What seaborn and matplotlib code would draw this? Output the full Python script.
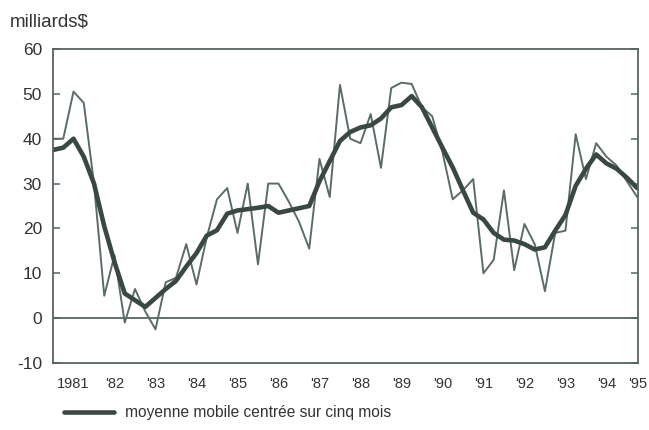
import numpy as np
import pandas as pd
import seaborn as sns
import matplotlib.pyplot as plt
from matplotlib.ticker import MultipleLocator

# quarterly readings, 1981 Q1 .. 1995 Q2 (milliards $)
quarters = [1981 + 0.25 * i for i in range(58)]
raw_vals = [40, 40, 50.5, 48, 30, 5, 14, -1, 6.5, 1.5, -2.5, 8,
            9, 16.5, 7.5, 18, 26.5, 29, 19, 30, 12, 30, 30, 26,
            21.5, 15.5, 35.5, 27, 52, 40, 39, 45.5, 33.5, 51.3, 52.5, 52.2,
            47, 45, 37, 26.5, 28.5, 31, 10, 13, 28.5, 10.7, 21, 16.5,
            6, 19, 19.5, 41, 31, 39, 36, 34, 30.5, 27]
avg_vals = [37.5, 38, 40, 36, 30, 20.5, 12.5, 5.5, 4, 2.5, 4.5, 6.5,
            8.3, 11.5, 14.5, 18.4, 19.6, 23.3, 24, 24.3, 24.6, 25, 23.5, 24,
            24.5, 25, 30.5, 35, 39.5, 41.5, 42.5, 43, 44.5, 47, 47.5, 49.5,
            47, 42.5, 38, 33.6, 28.5, 23.5, 22, 19, 17.5, 17.3, 16.5, 15.3,
            15.8, 19.5, 23, 29.5, 33.3, 36.5, 34.5, 33.3, 31.3, 29]
year_labels = ["1981", "'82", "'83", "'84", "'85", "'86", "'87", "'88",
               "'89", "'90", "'91", "'92", "'93", "'94", "'95"]
y_ticks = [-10, 0, 10, 20, 30, 40, 50, 60]

df = pd.DataFrame({"t": quarters, "raw": raw_vals, "avg": avg_vals})

sns.set_style("white")
plt.rcParams['font.family'] = ['Liberation Sans', 'DejaVu Sans']
plt.rcParams['axes.unicode_minus'] = False

frame = "#56645f"
fig = plt.figure(figsize=(6.49, 4.30), dpi=100)
ax = fig.add_axes([53/649, 1 - 363/430, 585/649, 314/430])

sns.lineplot(data=df, x="t", y="raw", ax=ax, color="#5d6b66", lw=1.4)
sns.lineplot(data=df, x="t", y="avg", ax=ax, color="#3a4843", lw=3.3,
             label="moyenne mobile centrée sur cinq mois")
ax.axhline(0, color=frame, lw=1.3, zorder=1)

ax.set_xlim(1981, 1995.27)
ax.set_ylim(-10, 60)
ax.set_yticks(y_ticks)
ax.set_yticklabels([str(v) for v in y_ticks], fontsize=12.5, color="#333")
ax.set_xlabel("")
ax.set_ylabel("")

ax.xaxis.set_major_locator(MultipleLocator(1))
ax.xaxis.set_minor_locator(MultipleLocator(0.25))
ax.tick_params(axis="x", which="major", direction="in", length=7, width=1.1,
               color=frame, labelbottom=False)
ax.tick_params(axis="x", which="minor", direction="in", length=4, width=1.1,
               color=frame)
ax.tick_params(axis="y", direction="in", length=5, width=1.1, color=frame,
               right=True, left=True, pad=8)

for s in ax.spines.values():
    s.set_color(frame)
    s.set_linewidth(1.3)

# year labels sit in the middle of each year, '95 squeezed at the end
for i, lab in enumerate(year_labels):
    xpos = 1981.5 + i if i < len(year_labels) - 1 else 1995.27
    ax.text(xpos, -0.068, lab, transform=ax.get_xaxis_transform(),
            ha="center", va="center", fontsize=10.5, color="#333")

fig.text(10/649, 1 - 22/430, "milliards$", fontsize=13.5, color="#333",
         va="center", ha="left")

handles, labels = ax.get_legend_handles_labels()
ax.get_legend().remove()
fig.legend(handles, labels, loc="center left",
           bbox_to_anchor=(50/649, 1 - 413/430), frameon=False,
           fontsize=11.2, handlelength=3.2, handletextpad=0.7,
           labelcolor="#333")

fig.savefig("out.png", dpi=100)
